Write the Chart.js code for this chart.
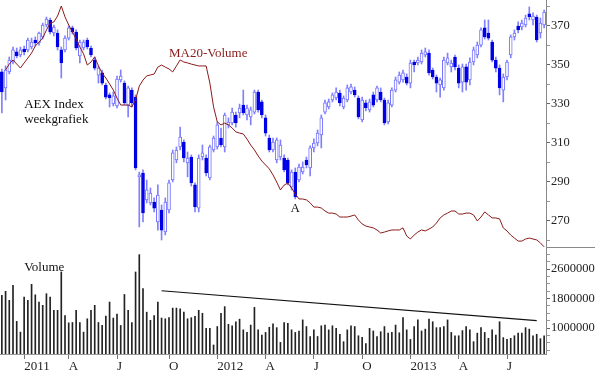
<!DOCTYPE html>
<html>
<head>
<meta charset="utf-8">
<title>AEX Index weekgrafiek</title>
<script src="https://cdn.jsdelivr.net/npm/chart.js@4.4.1/dist/chart.umd.min.js"></script>
<style>
    html, body { margin: 0; padding: 0; background: #fff; }
    #wrap { width: 595px; height: 372px; }
</style>
</head>
<body>
<div id="wrap"><canvas id="myChart"></canvas></div>
<script>
// weekly candles, Friday closes from 26 Nov 2010
const open = [
    346.4, 338.2, 346.4, 351.5, 356.7, 355.1, 358.2, 357.7, 359.2, 362.8,
    361.3, 364.4, 370.5, 373.1, 366.4, 366.4, 357.7, 357.7, 363.8, 369.0,
    366.9, 354.6, 358.7, 362.8, 358.7, 352.5, 344.8, 345.9, 339.7, 334.6,
    330.0, 328.9, 342.3, 340.7, 329.4, 337.1, 333.5, 292.5, 294.5, 280.7,
    279.1, 279.6, 269.4, 275.5, 264.2, 275.5, 290.9, 301.2, 307.9, 310.4,
    299.7, 302.7, 288.4, 276.5, 302.7, 302.2, 292.0, 306.3, 307.9, 312.5,
    307.9, 319.2, 320.2, 324.3, 325.3, 329.4, 324.3, 323.3, 325.8, 336.1,
    331.0, 322.8, 312.5, 306.3, 301.2, 302.7, 302.2, 301.2, 287.3, 295.0,
    290.9, 295.0, 301.2, 297.1, 307.4, 309.9, 314.0, 325.8, 328.4, 332.0,
    333.0, 335.6, 328.4, 332.0, 336.1, 337.1, 333.0, 321.7, 330.5, 326.9,
    334.6, 332.0, 336.1, 332.0, 320.7, 329.4, 337.1, 341.2, 342.3, 343.8,
    340.7, 351.5, 351.0, 351.5, 355.1, 356.1, 347.4, 343.8, 339.7, 338.2,
    351.0, 349.0, 354.1, 348.4, 341.2, 349.0, 342.3, 351.5, 355.1, 360.2,
    369.0, 366.4, 361.8, 352.5, 348.4, 337.1, 343.8, 355.1, 364.4, 370.0,
    369.5, 370.5, 376.2, 373.1, 374.6, 366.4, 370.5
];
const close = [
    336.1, 347.4, 352.5, 357.7, 354.6, 357.7, 356.7, 362.8, 361.8, 361.3,
    366.4, 370.5, 373.6, 366.9, 369.5, 359.2, 351.0, 363.8, 369.0, 366.9,
    358.7, 361.8, 361.8, 359.2, 355.1, 348.4, 348.4, 340.7, 333.5, 333.0,
    334.1, 342.8, 344.3, 330.5, 338.2, 330.5, 297.1, 293.5, 274.0, 285.8,
    284.2, 276.5, 283.2, 265.2, 279.6, 289.4, 304.8, 306.3, 313.0, 302.2,
    302.2, 289.4, 277.1, 302.2, 304.8, 294.5, 307.9, 312.5, 319.2, 308.9,
    324.3, 320.7, 325.8, 320.2, 327.9, 325.3, 327.9, 326.9, 336.1, 326.9,
    324.3, 315.0, 306.3, 310.4, 311.5, 308.9, 296.1, 289.4, 295.0, 282.2,
    297.6, 297.6, 298.6, 307.4, 309.9, 315.0, 322.8, 330.5, 331.0, 334.6,
    336.1, 330.5, 333.0, 338.2, 338.7, 334.6, 323.3, 332.0, 327.9, 331.0,
    329.4, 338.2, 332.0, 320.2, 330.5, 337.1, 342.3, 344.8, 345.9, 340.7,
    351.0, 350.0, 352.5, 356.1, 356.7, 345.9, 343.8, 340.7, 342.3, 352.5,
    353.6, 351.0, 349.0, 340.7, 349.0, 341.2, 351.5, 357.7, 360.2, 368.0,
    364.4, 363.8, 352.5, 348.4, 338.2, 343.8, 351.5, 364.4, 366.4, 368.0,
    371.5, 374.1, 374.6, 375.1, 362.8, 371.5, 377.2
];
const high = [
    347.9, 349.5, 354.1, 359.2, 358.7, 359.2, 359.7, 363.8, 363.8, 364.4,
    366.9, 371.5, 374.6, 374.1, 370.5, 368.0, 359.2, 364.9, 370.0, 370.0,
    368.0, 362.8, 362.8, 363.8, 359.7, 354.1, 349.5, 347.4, 340.7, 335.6,
    336.1, 344.3, 347.4, 341.8, 339.2, 338.2, 334.6, 295.0, 296.1, 290.9,
    286.8, 281.7, 288.4, 278.1, 281.7, 290.9, 306.3, 307.9, 318.1, 311.5,
    305.3, 303.8, 289.4, 303.8, 308.9, 303.8, 308.9, 313.5, 320.7, 317.6,
    325.3, 322.8, 327.9, 325.8, 329.9, 337.1, 329.4, 328.4, 337.1, 337.1,
    332.0, 324.3, 314.0, 312.5, 312.5, 311.5, 303.8, 302.2, 296.1, 297.1,
    299.1, 300.2, 302.7, 308.4, 312.0, 316.6, 324.3, 332.0, 332.5, 335.6,
    338.2, 337.1, 334.1, 339.7, 340.2, 338.7, 334.1, 333.5, 332.0, 332.5,
    336.1, 339.2, 338.2, 333.0, 332.0, 338.2, 343.8, 346.4, 347.4, 345.4,
    352.5, 352.5, 354.1, 357.7, 358.7, 357.7, 348.4, 344.8, 343.3, 354.1,
    356.1, 352.5, 355.1, 350.0, 350.5, 350.5, 353.6, 359.2, 361.8, 369.0,
    373.1, 373.1, 362.8, 354.1, 350.0, 345.4, 352.5, 365.4, 368.0, 372.1,
    373.1, 375.6, 379.8, 376.7, 375.6, 374.1, 378.2
];
const low = [
    325.3, 332.0, 345.4, 350.5, 353.6, 354.1, 355.1, 356.7, 358.2, 359.7,
    360.2, 363.3, 369.5, 365.9, 364.9, 357.7, 343.3, 356.7, 362.8, 365.9,
    357.7, 351.0, 357.7, 358.2, 354.1, 347.4, 340.7, 339.7, 332.5, 328.4,
    328.9, 327.9, 341.2, 329.4, 323.3, 328.4, 296.1, 266.8, 269.4, 279.1,
    278.1, 274.5, 265.2, 260.1, 262.7, 274.0, 289.9, 299.7, 306.3, 300.2,
    292.5, 287.8, 274.5, 274.5, 301.2, 293.0, 290.9, 305.3, 306.8, 307.9,
    305.3, 317.6, 319.2, 318.1, 322.8, 324.3, 321.7, 319.2, 324.8, 325.8,
    322.8, 313.5, 305.3, 305.3, 299.7, 301.2, 295.0, 288.4, 285.8, 281.2,
    289.9, 294.0, 297.1, 293.0, 305.3, 308.4, 307.4, 324.8, 327.4, 331.0,
    332.0, 328.9, 327.4, 331.0, 335.1, 333.5, 322.3, 320.7, 326.4, 325.8,
    328.4, 331.0, 331.0, 319.2, 319.7, 328.4, 336.1, 340.2, 341.2, 339.7,
    338.2, 346.4, 350.0, 350.5, 354.1, 344.8, 342.8, 336.1, 333.5, 337.1,
    350.0, 346.4, 347.4, 338.2, 336.1, 337.1, 339.7, 350.0, 353.6, 359.2,
    363.3, 362.8, 351.5, 346.4, 334.6, 331.0, 342.3, 353.6, 362.8, 366.4,
    368.0, 369.5, 373.1, 370.5, 361.8, 363.8, 369.0
];
const volume = [
    1887000, 1995000, 1750000, 2158000, 1180000, 890000, 1840000, 1750000, 2185000, 1900000,
    1705000, 1615000, 1930000, 1840000, 1480000, 1480000, 2520000, 1340000, 1140000, 1150000,
    1480000, 1150000, 890000, 1250000, 1480000, 1615000, 1150000, 1070000, 1325000, 1705000,
    1270000, 1380000, 1070000, 1910000, 1480000, 1150000, 2520000, 2990000, 2070000, 1430000,
    1210000, 1340000, 1705000, 1270000, 1250000, 1280000, 1540000, 1540000, 1520000, 1430000,
    1250000, 1280000, 1320000, 1480000, 1400000, 990000, 990000, 540000, 1040000, 1400000,
    1580000, 1100000, 1060000, 1170000, 1240000, 950000, 880000, 1080000, 1560000, 950000,
    810000, 880000, 1020000, 1110000, 1010000, 610000, 1150000, 1130000, 950000, 880000,
    920000, 1220000, 1040000, 770000, 950000, 770000, 1060000, 1080000, 950000, 1060000,
    990000, 830000, 630000, 950000, 1060000, 1040000, 790000, 750000, 580000, 990000,
    920000, 770000, 900000, 1040000, 860000, 880000, 1080000, 870000, 1280000, 950000,
    690000, 1040000, 1220000, 920000, 970000, 1240000, 1170000, 1010000, 1010000, 1040000,
    1220000, 880000, 790000, 790000, 930000, 1040000, 950000, 630000, 860000, 1010000,
    880000, 720000, 950000, 810000, 1170000, 740000, 690000, 720000, 790000, 860000,
    860000, 1010000, 970000, 790000, 830000, 710000, 790000
];
const ma20Volume = [
    null, 1608000, 1633000, 1651000, 1633000, 1616000, 1638000, 1659000, 1681000, 1711000,
    1728000, 1746000, 1780000, 1811000, 1815000, 1841000, 1884000, 1837000, 1802000, 1772000,
    1741000, 1707000, 1677000, 1629000, 1642000, 1664000, 1625000, 1594000, 1573000, 1547000,
    1521000, 1486000, 1456000, 1456000, 1456000, 1448000, 1478000, 1538000, 1564000, 1582000,
    1586000, 1590000, 1620000, 1629000, 1620000, 1612000, 1599000, 1625000, 1651000, 1642000,
    1638000, 1633000, 1629000, 1625000, 1625000, 1625000, 1551000, 1448000, 1383000, 1370000,
    1378000, 1370000, 1357000, 1340000, 1335000, 1331000, 1309000, 1283000, 1262000, 1236000,
    1214000, 1197000, 1180000, 1154000, 1123000, 1089000, 1110000, 1119000, 1097000, 1072000,
    1050000, 1050000, 1046000, 1033000, 1015000, 1015000, 1011000, 998000, 989000, 989000,
    985000, 972000, 972000, 972000, 976000, 981000, 959000, 942000, 933000, 929000,
    925000, 916000, 903000, 907000, 912000, 916000, 916000, 916000, 925000, 890000,
    877000, 894000, 907000, 916000, 912000, 920000, 929000, 946000, 968000, 981000,
    989000, 998000, 998000, 985000, 985000, 989000, 989000, 981000, 955000, 972000,
    994000, 981000, 968000, 968000, 964000, 925000, 912000, 894000, 881000, 868000,
    868000, 877000, 881000, 877000, 873000, 860000, 843000
];

// axis ticks: every value gets a tick mark, only the listed ones get a label
const priceTicks = [260, 270, 280, 290, 300, 310, 320, 330, 340, 350, 360, 370, 380];
const priceLabels = [270, 290, 310, 330, 350, 370];
const volumeTicks = [400000, 600000, 800000, 1000000, 1200000, 1400000, 1600000, 1800000,
    2000000, 2200000, 2400000, 2600000, 2800000, 3000000];
const volumeLabels = [1000000, 1800000, 2600000];

const tickMonths = ['2011-01', '2011-04', '2011-07', '2011-10', '2012-01', '2012-04', '2012-07', '2012-10', '2013-01', '2013-04', '2013-07'];
const tickNames = ['2011', 'A', 'J', 'O', '2012', 'A', 'J', 'O', '2013', 'A', 'J'];

// weeks (Fridays)
const weeks = [];
for (let i = 0; i < close.length; i++) {
    weeks.push(new Date(Date.UTC(2010, 10, 26) + i * 7 * 86400000).toISOString().slice(0, 10));
}
const tickLabels = weeks.map(function (w, i) {
    const m = w.slice(0, 7);
    const k = tickMonths.indexOf(m);
    if (k < 0) return '';
    if (i > 0 && weeks[i - 1].slice(0, 7) === m) return '';
    return tickNames[k];
});

// volume trend line (start / end week and level)
const trendWeeks = [43, 144];
const trendLevels = [2010000, 1200000];

const notes = [
    { text: 'AEX Index', week: 6, value: 329.4, axis: 'y', color: '#111', align: 'left' },
    { text: 'weekgrafiek', week: 6, value: 321.7, axis: 'y', color: '#111', align: 'left' },
    { text: 'MA20-Volume', week: 45, value: 355.6, axis: 'y', color: '#8b1a1a', align: 'left' },
    { text: 'A', week: 79, value: 276.0, axis: 'y', color: '#111', align: 'center' },
    { text: 'Volume', week: 6, value: 2627000, axis: 'yv', color: '#111', align: 'left' }
];

const serif = "'Liberation Serif', 'Times New Roman', serif";
const isDown = close.map((c, i) => c < open[i]);

const extras = {
    id: 'extras',
    afterDraw(chart) {
        const { ctx, chartArea, scales } = chart;
        ctx.save();
        // separator between the two panes on the axis side
        const ySep = Math.round(scales.yv.top) + 0.5;
        ctx.strokeStyle = '#888';
        ctx.lineWidth = 1;
        ctx.beginPath();
        ctx.moveTo(chartArea.right, ySep);
        ctx.lineTo(chart.width, ySep);
        ctx.stroke();

        ctx.font = '13px ' + serif;
        ctx.textBaseline = 'middle';
        notes.forEach(function (n) {
            ctx.fillStyle = n.color;
            ctx.textAlign = n.align;
            ctx.fillText(n.text, scales.x.getPixelForValue(n.week), scales[n.axis].getPixelForValue(n.value));
        });
        ctx.restore();
    }
};

function noPad(axis) {
    axis.paddingTop = 0;
    axis.paddingBottom = 0;
    axis.paddingLeft = 0;
    axis.paddingRight = 0;
}

const data = {
    labels: weeks,
    datasets: [
        {
            type: 'line',
            label: 'MA20-Volume',
            data: ma20Volume,
            yAxisID: 'yma',
            borderColor: '#8b1a1a',
            borderWidth: 1,
            pointRadius: 0,
            order: 0
        },
        {
            type: 'bar',
            label: 'body',
            data: open.map((o, i) => [o, close[i]]),
            yAxisID: 'y',
            backgroundColor: isDown.map(d => d ? '#0000e6' : '#ffffff'),
            borderColor: isDown.map(d => d ? '#0000e6' : '#7373ff'),
            borderWidth: 1,
            borderSkipped: false,
            barThickness: 3,
            minBarLength: 1,
            grouped: false,
            order: 1
        },
        {
            type: 'bar',
            label: 'wick',
            data: low.map((l, i) => [l, high[i]]),
            yAxisID: 'y',
            backgroundColor: '#8080ff',
            borderWidth: 0,
            barThickness: 1,
            grouped: false,
            order: 2
        },
        {
            type: 'bar',
            label: 'Volume',
            data: volume,
            yAxisID: 'yv',
            backgroundColor: '#222',
            borderWidth: 0,
            barThickness: 1,
            grouped: false,
            order: 1
        },
        {
            type: 'line',
            label: 'trend',
            data: trendWeeks.map((w, i) => ({ x: weeks[w], y: trendLevels[i] })),
            yAxisID: 'yv',
            borderColor: '#111',
            borderWidth: 1.2,
            pointRadius: 0,
            order: 0
        }
    ]
};

const config = {
    type: 'bar',
    data: data,
    options: {
        responsive: true,
        maintainAspectRatio: false,
        animation: false,
        devicePixelRatio: 1,
        layout: { padding: 0 },
        plugins: {
            legend: { display: false },
            tooltip: { enabled: false }
        },
        scales: {
            x: {
                type: 'category',
                offset: true,
                grid: { drawOnChartArea: false, offset: false, tickLength: 5, tickColor: '#777' },
                border: { color: '#999' },
                ticks: {
                    autoSkip: false,
                    maxRotation: 0,
                    minRotation: 0,
                    align: 'start',
                    padding: 0,
                    color: '#222',
                    font: { family: serif, size: 13 },
                    callback: function (value) { return tickLabels[value]; }
                },
                afterBuildTicks: function (axis) {
                    axis.ticks = axis.ticks.filter(t => tickLabels[t.value]);
                },
                afterFit: function (axis) { axis.height = 18; noPad(axis); }
            },
            y: {
                position: 'right',
                stack: 'panes',
                stackWeight: 247,
                min: 256.5,
                max: 383.35,
                grid: {
                    drawOnChartArea: false,
                    tickLength: 4,
                    tickColor: ctx => (ctx.tick && priceLabels.includes(ctx.tick.value)) ? '#666' : '#999'
                },
                border: { color: '#888' },
                ticks: {
                    autoSkip: false,
                    padding: 1,
                    color: '#222',
                    font: { family: serif, size: 12.5 },
                    callback: v => (priceLabels.includes(v) ? String(v) : '')
                },
                afterBuildTicks: function (axis) {
                    axis.ticks = priceTicks.map(v => ({ value: v }));
                },
                afterFit: function (axis) { axis.width = 49; noPad(axis); }
            },
            yv: {
                position: 'right',
                stack: 'panes',
                stackWeight: 107,
                min: 295000,
                max: 3197000,
                grid: {
                    drawOnChartArea: false,
                    tickLength: 4,
                    tickColor: ctx => (ctx.tick && volumeLabels.includes(ctx.tick.value)) ? '#666' : '#999'
                },
                border: { color: '#888' },
                ticks: {
                    autoSkip: false,
                    padding: 1,
                    color: '#222',
                    font: { family: serif, size: 12.5 },
                    callback: v => (volumeLabels.includes(v) ? String(v) : '')
                },
                afterBuildTicks: function (axis) {
                    axis.ticks = volumeTicks.map(v => ({ value: v }));
                },
                afterFit: function (axis) { axis.width = 49; noPad(axis); }
            },
            yma: {
                display: false,
                min: 380000,
                max: 1910000
            }
        }
    },
    plugins: [extras]
};

const myChart = new Chart(
    document.getElementById('myChart'),
    config
);
</script>
</body>
</html>
